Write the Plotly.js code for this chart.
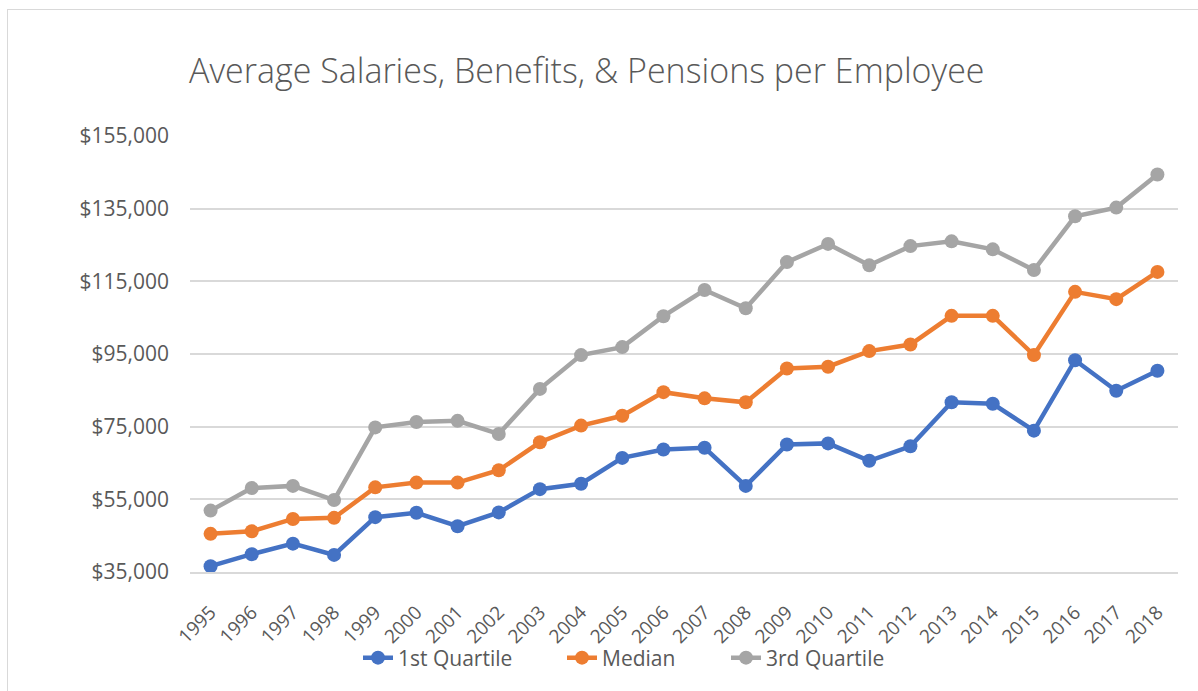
<!DOCTYPE html>
<html>
<head>
<meta charset="utf-8">
<script src="https://cdn.plot.ly/plotly-3.0.1.min.js"></script>
<style>
  html, body { margin: 0; padding: 0; background: #ffffff; }
  #wrap { position: relative; width: 1198px; height: 691px; overflow: hidden; }
  #frame { position: absolute; left: 7px; top: 9px; width: 1400px; height: 900px; border: 1.5px solid #d9d9d9; box-sizing: border-box; pointer-events: none; }
  #chart { position: absolute; left: 0; top: 0; width: 1198px; height: 691px; }
</style>
</head>
<body>
<div id="wrap">
  <div id="chart"></div>
  <div id="frame"></div>
</div>
<script>
const years = ["1995","1996","1997","1998","1999","2000","2001","2002","2003","2004","2005","2006",
               "2007","2008","2009","2010","2011","2012","2013","2014","2015","2016","2017","2018"];
const firstQuartile = [36600, 39900, 42800, 39700, 50100, 51300, 47600, 51400, 57800, 59300, 66400, 68700,
                       69200, 58700, 70100, 70400, 65600, 69600, 81700, 81300, 73900, 93300, 84900, 90400];
const median = [45500, 46200, 49600, 49900, 58300, 59600, 59600, 63000, 70700, 75300, 78000, 84500,
                82800, 81700, 91000, 91500, 95800, 97600, 105500, 105500, 94700, 112100, 110100, 117600];
const thirdQuartile = [51900, 58100, 58700, 54800, 74800, 76300, 76600, 73000, 85400, 94700, 96900, 105400,
                       112600, 107600, 120300, 125300, 119400, 124700, 126000, 123800, 118100, 132900, 135300, 144400];
const seriesNames = ["1st Quartile", "Median", "3rd Quartile"];
const seriesColors = ["#4472C4", "#ED7D31", "#A5A5A5"];
const yTicks = [35000, 55000, 75000, 95000, 115000, 135000, 155000];

const legendIds = ["legend", "legend2", "legend3"];
const allSeries = [firstQuartile, median, thirdQuartile];
const traces = allSeries.map((vals, i) => ({
  type: "scatter",
  mode: "lines+markers",
  name: seriesNames[i],
  x: years,
  y: vals,
  line: { color: seriesColors[i], width: 4.5 },
  marker: { color: seriesColors[i], size: 14 },
  legend: legendIds[i],
  hoverinfo: "x+y+name"
}));

const textColor = "#595959";
const plotL = 190, plotW = 988, plotTop = 135.7, plotH = 439.6;
// text start positions of the three legend entries (px) in the reference
const legendTextStart = [398, 602, 766];
function legendCfg(i) {
  return {
    orientation: "h",
    x: (legendTextStart[i] - 40 - plotL) / plotW,
    xanchor: "left",
    y: (plotTop + plotH - 662) / plotH,
    yanchor: "middle",
    font: { size: 21, color: textColor },
    bgcolor: "rgba(0,0,0,0)",
    borderwidth: 0
  };
}

const layout = {
  width: 1198,
  height: 691,
  paper_bgcolor: "rgba(0,0,0,0)",
  plot_bgcolor: "rgba(0,0,0,0)",
  margin: { l: 190, r: 20, t: 135.7, b: 115.7 },
  font: { family: "Open Sans, sans-serif", color: textColor },
  title: {
    text: "Average Salaries, Benefits, & Pensions per Employee",
    font: { family: "Open Sans, sans-serif", size: 34, color: textColor, weight: 300 },
    xref: "container", x: 189 / 1198, xanchor: "left",
    yref: "container", y: 1 - 71 / 691, yanchor: "middle"
  },
  xaxis: {
    type: "category",
    range: [-0.5, years.length - 0.5],
    tickangle: -45,
    tickfont: { size: 19, color: textColor },
    showgrid: false,
    showline: true,
    linecolor: "#d9d9d9",
    linewidth: 1.5,
    ticks: "",
    ticklabelstandoff: 20,
    zeroline: false,
    fixedrange: true
  },
  yaxis: {
    range: [35000, 155000],
    tickvals: yTicks,
    tickformat: "$,.0f",
    tickfont: { size: 21, color: textColor },
    showgrid: true,
    gridcolor: "#d9d9d9",
    gridwidth: 1.5,
    zeroline: false,
    showline: false,
    ticks: "",
    ticklabelstandoff: 20,
    fixedrange: true
  },
  showlegend: true,
  legend: legendCfg(0),
  legend2: legendCfg(1),
  legend3: legendCfg(2),
  hovermode: "closest"
};

Plotly.newPlot("chart", traces, layout, { displayModeBar: false });
</script>
</body>
</html>
